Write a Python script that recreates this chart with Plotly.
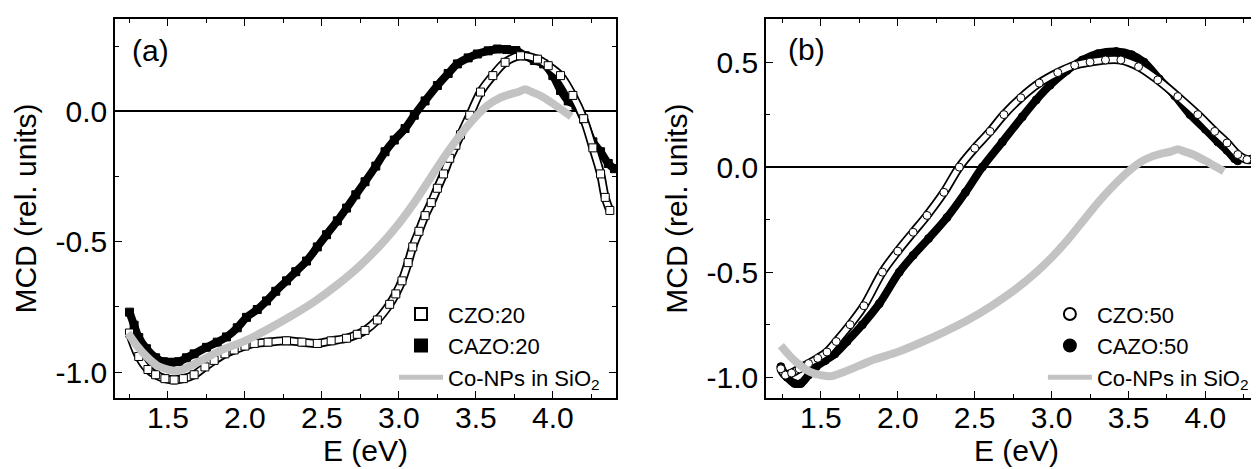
import plotly.graph_objects as go

# ---- panel (a): 20 % samples ----
e_czo20 = [1.25, 1.31, 1.37, 1.42, 1.48, 1.54, 1.60, 1.67, 1.74, 1.80, 1.87, 1.93, 2.00, 2.06,
           2.15, 2.27, 2.37, 2.47, 2.56, 2.66, 2.73, 2.78, 2.86, 2.94, 2.98, 3.02, 3.06, 3.09,
           3.13, 3.17, 3.21, 3.25, 3.29, 3.33, 3.37, 3.40, 3.46, 3.53, 3.61, 3.69, 3.79, 3.90,
           3.97, 4.05, 4.13, 4.20, 4.26, 4.31, 4.34, 4.37]
m_czo20 = [-0.85, -0.94, -0.99, -1.01, -1.025, -1.03, -1.025, -1.01, -0.98, -0.955, -0.93, -0.915,
           -0.90, -0.89, -0.885, -0.88, -0.885, -0.89, -0.88, -0.87, -0.855, -0.84, -0.80, -0.74,
           -0.70, -0.65, -0.58, -0.52, -0.46, -0.40, -0.35, -0.295, -0.24, -0.18, -0.13, -0.09,
           -0.015, 0.074, 0.137, 0.188, 0.213, 0.20, 0.175, 0.137, 0.061, -0.028, -0.14, -0.24,
           -0.33, -0.38]

e_cazo20 = [1.25, 1.28, 1.31, 1.36, 1.42, 1.47, 1.52, 1.57, 1.62, 1.67, 1.75, 1.82, 1.88, 1.95,
            2.01, 2.08, 2.14, 2.20, 2.27, 2.33, 2.40, 2.47, 2.53, 2.60, 2.66, 2.72, 2.78, 2.85,
            2.91, 2.97, 3.04, 3.10, 3.17, 3.25, 3.32, 3.38, 3.45, 3.51, 3.58, 3.64, 3.70, 3.76,
            3.82, 3.88, 3.94, 4.00, 4.05, 4.10, 4.15, 4.20, 4.26, 4.31, 4.36, 4.40]
m_cazo20 = [-0.77, -0.82, -0.867, -0.91, -0.945, -0.96, -0.962, -0.96, -0.945, -0.93, -0.905,
            -0.885, -0.865, -0.83, -0.79, -0.76, -0.727, -0.69, -0.65, -0.615, -0.574, -0.52,
            -0.473, -0.42, -0.371, -0.32, -0.27, -0.21, -0.155, -0.11, -0.066, -0.015, 0.04,
            0.099, 0.145, 0.182, 0.205, 0.22, 0.232, 0.239, 0.237, 0.233, 0.213, 0.195, 0.182,
            0.137, 0.08, 0.04, 0.023, -0.03, -0.117, -0.155, -0.2, -0.22]

# ---- panel (b): 50 % samples ----
e_czo50 = [1.24, 1.27, 1.31, 1.36, 1.42, 1.48, 1.54, 1.60, 1.69, 1.78, 1.90, 2.00, 2.10, 2.19,
           2.30, 2.40, 2.50, 2.60, 2.69, 2.80, 2.92, 3.04, 3.15, 3.25, 3.35, 3.45, 3.565, 3.69,
           3.82, 3.95, 4.06, 4.14, 4.21, 4.27, 4.33, 4.38]
m_czo50 = [-0.96, -0.99, -0.98, -0.96, -0.935, -0.91, -0.88, -0.83, -0.75, -0.66, -0.50, -0.40,
           -0.31, -0.23, -0.12, 0.0, 0.09, 0.17, 0.25, 0.33, 0.40, 0.45, 0.485, 0.50, 0.51, 0.51,
           0.478, 0.415, 0.336, 0.25, 0.17, 0.115, 0.06, 0.036, 0.044, 0.06]

e_cazo50 = [1.24, 1.28, 1.33, 1.37, 1.42, 1.47, 1.53, 1.59, 1.67, 1.77, 1.88, 2.01, 2.10, 2.20,
            2.32, 2.44, 2.55, 2.68, 2.81, 2.90, 2.99, 3.10, 3.20, 3.30, 3.42, 3.52, 3.60, 3.70,
            3.80, 3.90, 4.00, 4.08, 4.14, 4.19, 4.21]
m_cazo50 = [-0.95, -1.0, -1.03, -1.03, -0.99, -0.95, -0.92, -0.89, -0.83, -0.75, -0.65, -0.50,
            -0.42, -0.34, -0.24, -0.12, 0.0, 0.12, 0.24, 0.32, 0.39, 0.46, 0.51, 0.54, 0.55, 0.535,
            0.50, 0.42, 0.34, 0.25, 0.18, 0.12, 0.08, 0.04, 0.03]

# ---- reference: Co nanoparticles in SiO2 (same curve in both panels) ----
e_np = [1.24, 1.30, 1.36, 1.43, 1.50, 1.57, 1.65, 1.75, 1.85, 2.00, 2.15, 2.30, 2.45, 2.60, 2.75,
        2.90, 3.00, 3.10, 3.20, 3.30, 3.40, 3.50, 3.58, 3.65, 3.72, 3.78, 3.82, 3.86, 3.92, 4.00,
        4.06, 4.12]
m_np = [-0.85, -0.90, -0.94, -0.975, -0.99, -0.995, -0.975, -0.945, -0.915, -0.88, -0.835, -0.785,
        -0.73, -0.665, -0.59, -0.50, -0.43, -0.35, -0.26, -0.17, -0.09, -0.02, 0.025, 0.05, 0.065,
        0.075, 0.085, 0.075, 0.06, 0.03, 0.005, -0.02]

x_ticks = [1.5, 2.0, 2.5, 3.0, 3.5, 4.0]
x_ticktext = ["1.5", "2.0", "2.5", "3.0", "3.5", "4.0"]
ya_ticks = [-1.0, -0.5, 0.0]
ya_ticktext = ["-1.0", "-0.5", "0.0"]
yb_ticks = [-1.0, -0.5, 0.0, 0.5]
yb_ticktext = ["-1.0", "-0.5", "0.0", "0.5"]

FONT = "Liberation Sans, Arial, sans-serif"
GRAY = "#c3c3c3"

fig = go.Figure()


def add_series(e, m, xa, ya, leg, name, rank, symbol, hollow):
    # dense experimental points: a thick band under sparse markers
    fig.add_trace(go.Scatter(x=e, y=m, xaxis=xa, yaxis=ya, mode="lines",
                             line=dict(color="black", width=9 if hollow else 8, shape="spline"),
                             showlegend=False, hoverinfo="skip"))
    if hollow:
        fig.add_trace(go.Scatter(x=e, y=m, xaxis=xa, yaxis=ya, mode="lines",
                                 line=dict(color="white", width=5.5, shape="spline"),
                                 showlegend=False, hoverinfo="skip"))
    fig.add_trace(go.Scatter(x=e, y=m, xaxis=xa, yaxis=ya, mode="markers", name=name,
                             legend=leg, legendrank=rank,
                             marker=dict(symbol=symbol, size=8,
                                         color="white" if hollow else "black",
                                         line=dict(color="black", width=1))))


# panel (a)
add_series(e_cazo20, m_cazo20, "x", "y", "legend", "CAZO:20", 2, "square", False)
add_series(e_czo20, m_czo20, "x", "y", "legend", "CZO:20", 1, "square", True)
fig.add_trace(go.Scatter(x=e_np, y=m_np, xaxis="x", yaxis="y", mode="lines",
                         name="Co-NPs in SiO<sub>2</sub>", legend="legend", legendrank=3,
                         line=dict(color=GRAY, width=8, shape="spline", smoothing=0.6)))

# panel (b)
add_series(e_cazo50, m_cazo50, "x2", "y2", "legend2", "CAZO:50", 2, "circle", False)
add_series(e_czo50, m_czo50, "x2", "y2", "legend2", "CZO:50", 1, "circle", True)
fig.add_trace(go.Scatter(x=e_np, y=m_np, xaxis="x2", yaxis="y2", mode="lines",
                         name="Co-NPs in SiO<sub>2</sub>", legend="legend2", legendrank=3,
                         line=dict(color=GRAY, width=8, shape="spline", smoothing=0.6)))

axis_style = dict(showline=True, linecolor="black", linewidth=1.5, mirror="allticks",
                  ticks="inside", ticklen=7, tickwidth=1.3, tickcolor="black",
                  minor=dict(ticks="inside", ticklen=4, tickwidth=1.3, tickcolor="black",
                             tickmode="linear", tick0=0, dtick=0.25),
                  showgrid=False, tickfont=dict(size=30, color="black"), automargin=False,
                  tickmode="array")

dom_y = [0.168, 0.9765]
legend_style = dict(bgcolor="rgba(0,0,0,0)", font=dict(size=22, color="black", family=FONT),
                    xanchor="left", yanchor="top", itemsizing="constant", tracegroupgap=0,
                    itemwidth=44)

fig.update_layout(
    width=1259, height=469,
    margin=dict(l=0, r=0, t=0, b=0),
    paper_bgcolor="white", plot_bgcolor="white",
    font=dict(family=FONT, color="black"),
    xaxis=dict(domain=[0.085, 0.4829], range=[1.156, 4.41], anchor="y",
               tickvals=x_ticks, ticktext=x_ticktext, zeroline=False, ticklabelstandoff=-8,
               title=dict(text="E (eV)", font=dict(size=30), standoff=0), **axis_style),
    yaxis=dict(domain=dom_y, range=[-1.10, 0.354], anchor="x",
               tickvals=ya_ticks, ticktext=ya_ticktext,
               zeroline=True, zerolinecolor="black", zerolinewidth=1.5,
               title=dict(text="MCD (rel. units)", font=dict(size=30), standoff=10), **axis_style),
    xaxis2=dict(domain=[0.602, 1.0], range=[1.143, 4.40], anchor="y2",
                tickvals=x_ticks, ticktext=x_ticktext, zeroline=False, ticklabelstandoff=-8,
                title=dict(text="E (eV)", font=dict(size=30), standoff=0), **axis_style),
    yaxis2=dict(domain=dom_y, range=[-1.10, 0.705], anchor="x2",
                tickvals=yb_ticks, ticktext=yb_ticktext,
                zeroline=True, zerolinecolor="black", zerolinewidth=1.5,
                title=dict(text="MCD (rel. units)", font=dict(size=30), standoff=10), **axis_style),
    legend=dict(x=0.3066, y=0.392, **legend_style),
    legend2=dict(x=0.822, y=0.392, **legend_style),
    annotations=[
        dict(text="(a)", xref="x domain", yref="y domain", x=0.03, y=0.918,
             xanchor="left", yanchor="middle", showarrow=False, font=dict(size=30)),
        dict(text="(b)", xref="x2 domain", yref="y2 domain", x=0.04, y=0.92,
             xanchor="left", yanchor="middle", showarrow=False, font=dict(size=30)),
    ],
)
# panel (b) is cropped at the right edge in the original: no right-hand frame line
fig.update_layout(yaxis2_mirror=False)

fig.write_html("out.html")
